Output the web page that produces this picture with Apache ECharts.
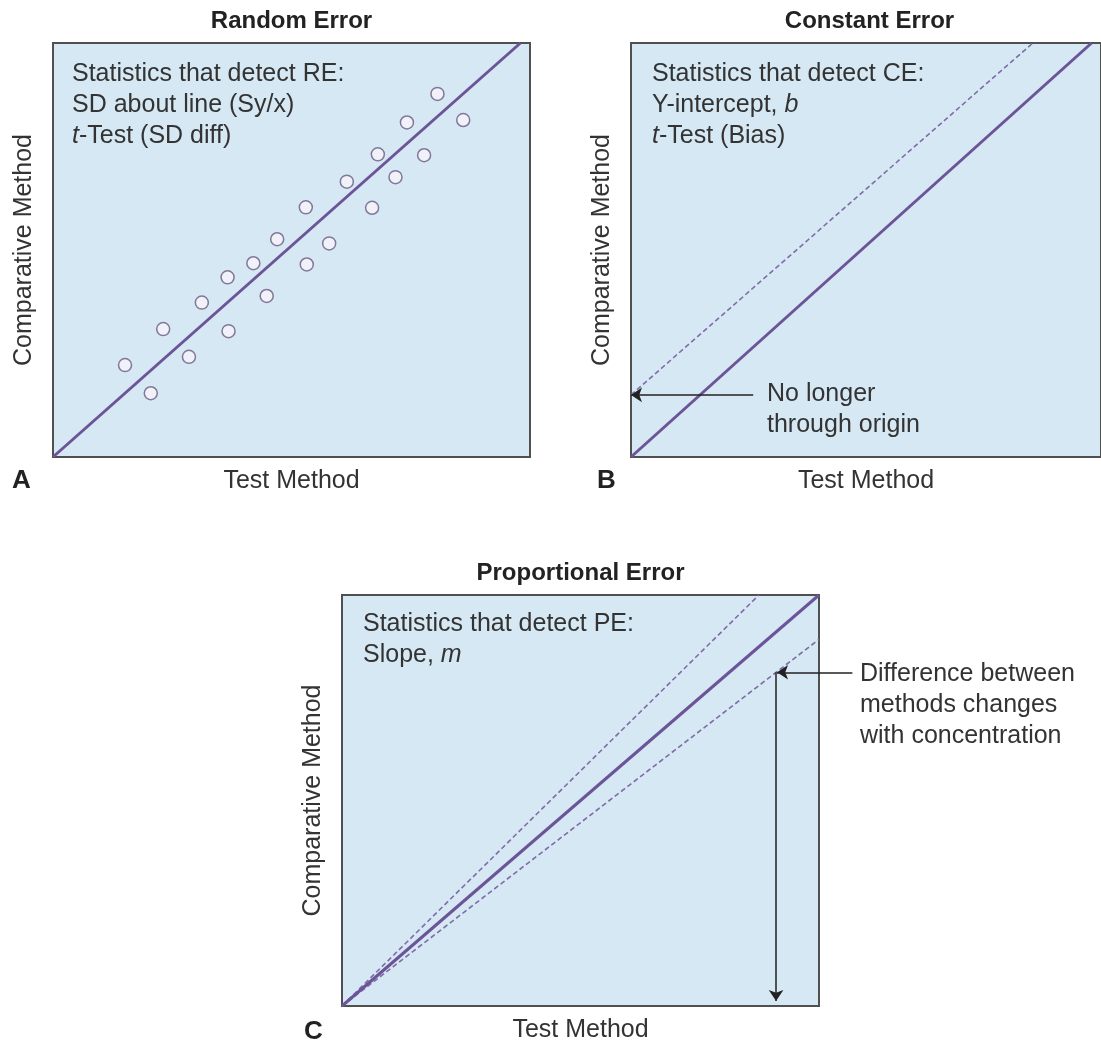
<!DOCTYPE html>
<html><head><meta charset="utf-8">
<script src="https://cdn.jsdelivr.net/npm/echarts@6/dist/echarts.min.js"></script>
<style>html,body{margin:0;padding:0;background:#fff}#c{width:1101px;height:1044px}</style>
</head><body><div id="c"></div>
<script>
// ---- data ----
const panelTitles = ['Random Error', 'Constant Error', 'Proportional Error'];
const panelLetters = ['A', 'B', 'C'];
const xAxisName = 'Test Method';
const yAxisName = 'Comparative Method';
const axisMin = 0, axisMax = 100;

// Panel A: random error scatter
const reX = [15.1, 20.5, 23.1, 28.5, 31.2, 36.6, 36.8, 42.0, 44.8, 47.0, 53.0, 53.2, 57.9, 61.6, 66.9, 68.1, 71.8, 74.2, 77.8, 80.6, 86.0];
const reY = [22.2, 15.4, 30.9, 24.2, 37.3, 43.4, 30.4, 46.8, 38.9, 52.6, 60.3, 46.5, 51.6, 66.5, 60.2, 73.1, 67.6, 80.8, 72.9, 87.7, 81.4];
const reLineX = [0, 98];
const reLineY = [0, 100];

// Panel B: constant error
const ceLineX = [0, 98];
const ceLineY = [0, 100];
const ceBiasX = [0, 85.5];
const ceBiasY = [15, 100];
const ceArrowX = [26, 0];
const ceArrowY = [15, 15];

// Panel C: proportional error
const peLineX = [0, 100];
const peLineY = [0, 100];
const peUpperX = [0, 87.4];
const peUpperY = [0, 100];
const peLowerX = [0, 100];
const peLowerY = [0, 89.2];
const peArrowHX = [107, 91.2];
const peArrowHY = [81.2, 81.2];
const peArrowVX = [91, 91];
const peArrowVY = [81.2, 1.2];

const textA = 'Statistics that detect RE:\nSD about line (Sy/x)\n{i|t}-Test (SD diff)';
const textB = 'Statistics that detect CE:\nY-intercept, {i|b}\n{i|t}-Test (Bias)';
const textC = 'Statistics that detect PE:\nSlope, {i|m}';
const noteB = 'No longer\nthrough origin';
const noteC = 'Difference between\nmethods changes\nwith concentration';

// ---- styling ----
const FONT = '"Liberation Sans", Arial, Helvetica, sans-serif';
const PURPLE = '#6b5497';
const DASH = '#7f6ca8';
const TXT = '#333';
const zip = (a, b) => a.map((v, i) => [v, b[i]]);

const grids = [
  {left: 53, top: 43, width: 477, height: 414},
  {left: 631, top: 43, width: 477, height: 414},
  {left: 342, top: 595, width: 477, height: 414}
].map(g => Object.assign(g, {show: true, backgroundColor: '#d6e8f3', borderColor: '#505050', borderWidth: 2, containLabel: false}));

const xAxes = [0,1,2].map(i => ({
  gridIndex: i, type: 'value', min: axisMin, max: axisMax,
  name: xAxisName, nameLocation: 'middle', nameGap: 12,
  nameTextStyle: {fontSize: 25, color: TXT, fontFamily: FONT, verticalAlign: 'top'},
  axisLine: {show: false}, axisTick: {show: false}, axisLabel: {show: false}, splitLine: {show: false}
}));
const yAxes = [0,1,2].map(i => ({
  gridIndex: i, type: 'value', min: axisMin, max: axisMax,
  name: yAxisName, nameLocation: 'middle', nameGap: 16,
  nameTextStyle: {fontSize: 25, color: TXT, fontFamily: FONT},
  axisLine: {show: false}, axisTick: {show: false}, axisLabel: {show: false}, splitLine: {show: false}
}));

const richTS = (size) => ({fontSize: size, color: TXT, fontFamily: FONT, fontWeight: 'normal', lineHeight: 31,
  rich: {i: {fontStyle: 'italic', fontSize: size, color: TXT, fontFamily: FONT, lineHeight: 31}}});

const titles = [
  {text: panelTitles[0], left: 291.5, top: 9, textAlign: 'center'},
  {text: panelTitles[1], left: 869.5, top: 9, textAlign: 'center'},
  {text: panelTitles[2], left: 580.5, top: 561, textAlign: 'center'}
].map(t => Object.assign(t, {padding: 0, textStyle: {fontSize: 24, fontWeight: 'bold', color: '#222', fontFamily: FONT}}));

const letters = [
  {text: panelLetters[0], left: 12, top: 468},
  {text: panelLetters[1], left: 597, top: 468},
  {text: panelLetters[2], left: 304, top: 1019}
].map(t => Object.assign(t, {padding: 0, textStyle: {fontSize: 26, fontWeight: 'bold', color: '#222', fontFamily: FONT}}));

const notes = [
  {text: textA, left: 72, top: 59},
  {text: textB, left: 652, top: 59},
  {text: textC, left: 363, top: 609},
  {text: noteB, left: 767, top: 379},
  {text: noteC, left: 860, top: 659}
].map(t => Object.assign(t, {padding: 0, textStyle: richTS(25)}));

const lineSeries = (gi, xs, ys, dashed) => ({
  type: 'line', xAxisIndex: gi, yAxisIndex: gi, data: zip(xs, ys),
  showSymbol: false, symbol: 'none', silent: true, animation: false, z: 2,
  lineStyle: dashed ? {color: DASH, width: 1.6, type: [5, 3]} : {color: PURPLE, width: 3}
});
const arrowSeries = (gi, xs, ys) => ({
  type: 'lines', coordinateSystem: 'cartesian2d', xAxisIndex: gi, yAxisIndex: gi,
  clip: false, silent: true, animation: false, z: 4,
  symbol: ['none', 'arrow'], symbolSize: 11,
  lineStyle: {color: '#222', width: 1.5, opacity: 1, curveness: 0},
  data: [{coords: zip(xs, ys)}]
});

const option = {
  animation: false,
  backgroundColor: '#fff',
  title: titles.concat(letters, notes),
  grid: grids,
  xAxis: xAxes,
  yAxis: yAxes,
  series: [
    lineSeries(0, reLineX, reLineY, false),
    {type: 'scatter', xAxisIndex: 0, yAxisIndex: 0, data: zip(reX, reY), symbol: 'circle', symbolSize: 13, z: 3,
     itemStyle: {color: '#f7f4fa', borderColor: '#6a5a84', borderWidth: 1.5}},
    lineSeries(1, ceLineX, ceLineY, false),
    lineSeries(1, ceBiasX, ceBiasY, true),
    arrowSeries(1, ceArrowX, ceArrowY),
    lineSeries(2, peUpperX, peUpperY, true),
    lineSeries(2, peLowerX, peLowerY, true),
    lineSeries(2, peLineX, peLineY, false),
    arrowSeries(2, peArrowHX, peArrowHY),
    arrowSeries(2, peArrowVX, peArrowVY)
  ]
};
const chart = echarts.init(document.getElementById('c'), null, {renderer: 'canvas'});
chart.setOption(option);
</script></body></html>
